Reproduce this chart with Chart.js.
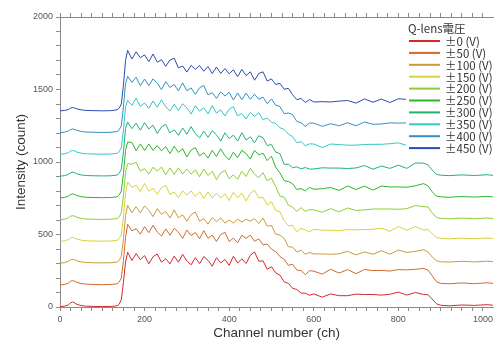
<!DOCTYPE html>
<html>
<head>
<meta charset="utf-8">
<script src="https://cdn.jsdelivr.net/npm/chart.js@4/dist/chart.umd.min.js"></script>
<style>
  body { margin: 0; background: #fff; }
  canvas { display: block; }
</style>
</head>
<body>
<canvas id="spec" width="496" height="341"></canvas>
<script>
// channel positions shared by every spectrum
const channels = [0, 10, 20, 25, 30, 35, 40, 50, 60, 80, 100, 120, 135, 140, 145, 150, 155,
  160, 170, 180, 190, 200, 210, 220, 230, 240, 250, 260, 270, 280, 290, 300, 310, 320, 330, 340, 350,
  360, 370, 380, 390, 400, 410, 420, 430, 440, 450, 460, 470, 480, 490, 500, 510, 520, 530, 540, 550,
  560, 570, 580, 590,
  600, 620, 640, 660, 680, 700, 720, 740, 760, 780, 800, 820, 840, 860,
  870, 880, 890, 900, 920, 950, 980, 1010, 1024];

const labels = ["±0 (V)", "±50 (V)", "±100 (V)", "±150 (V)", "±200 (V)",
  "±250 (V)", "±300 (V)", "±350 (V)", "±400 (V)", "±450 (V)"];
const colors = ["#d22a2a", "#d0692e", "#c99a3c", "#d6d23a", "#8fcc34",
  "#2eb52e", "#22b174", "#34c6c8", "#3290c4", "#2a4cb0"];

// counts (each spectrum sits 150 above the previous one)
const q0 = [3, 5, 15, 28, 35, 28, 18, 10, 6, 4, 3, 4, 8, 20, 50, 170, 310,
  378, 320, 368, 326, 354, 298, 347, 365, 309, 333, 297, 351, 309, 363, 317, 291, 340, 299, 348, 322,
  281, 340, 304, 328, 287, 350, 303, 332, 300, 357, 380, 315, 318, 260, 278, 235, 220, 174, 163, 129,
  121, 96, 95, 81,
  90, 68, 90, 78, 78, 89, 86, 86, 82, 88, 103, 82, 100, 86,
  85, 55, 22, 12, 8, 14, 11, 16, 12];
const q50 = [153, 155, 165, 178, 182, 178, 170, 162, 158, 155, 154, 155, 160, 172, 200, 320, 480,
  570, 525, 540, 502, 554, 512, 564, 517, 490, 538, 495, 543, 516, 473, 531, 493, 514, 471, 527, 474,
  496, 452, 499, 515, 452, 475, 443, 495, 473, 495, 453, 470, 429, 434, 399, 382, 348, 330, 287, 295,
  255, 251, 223, 250,
  247, 227, 260, 234, 258, 230, 259, 251, 252, 248, 258, 256, 260, 266,
  255, 215, 175, 163, 160, 166, 161, 167, 163];
const q100 = [303, 305, 315, 326, 330, 326, 318, 311, 307, 305, 304, 305, 310, 322, 350, 470, 630,
  701, 650, 692, 650, 697, 667, 623, 678, 639, 659, 614, 670, 615, 636, 591, 638, 655, 592, 609, 571,
  617, 589, 616, 578, 600, 579, 605, 586, 606, 591, 609, 575, 614, 558, 562, 503, 496, 474, 415, 413,
  379, 391, 364, 376,
  366, 366, 364, 367, 384, 359, 380, 364, 388, 364, 393, 376, 384, 395,
  380, 345, 320, 312, 310, 315, 311, 316, 313];
const q150 = [453, 455, 465, 476, 480, 476, 468, 461, 457, 455, 454, 455, 460, 472, 500, 620, 790,
  862, 825, 840, 796, 852, 799, 820, 777, 823, 840, 776, 793, 754, 801, 772, 800, 762, 795, 749, 794,
  752, 786, 752, 781, 734, 791, 753, 785, 731, 783, 805, 752, 757, 703, 725, 667, 656, 595, 560, 562,
  519, 542, 531, 518,
  536, 530, 529, 527, 534, 532, 534, 536, 544, 522, 555, 529, 554, 530,
  535, 505, 480, 473, 470, 475, 471, 476, 472];
const q200 = [603, 605, 615, 626, 630, 626, 618, 611, 607, 605, 604, 605, 610, 622, 650, 770, 930,
  989, 985, 998, 936, 954, 917, 964, 937, 965, 912, 960, 914, 960, 917, 951, 916, 946, 898, 951, 908,
  935, 878, 925, 943, 885, 912, 880, 937, 900, 957, 915, 892, 926, 870, 889, 831, 765, 757, 703, 688,
  660, 685, 659, 672,
  670, 654, 678, 656, 683, 666, 670, 676, 676, 676, 674, 678, 700, 692,
  690, 650, 618, 611, 608, 613, 609, 614, 610];
const q250 = [753, 755, 765, 776, 780, 776, 768, 761, 757, 755, 754, 755, 760, 772, 800, 920, 1080,
  1138, 1135, 1078, 1125, 1079, 1124, 1080, 1113, 1077, 1106, 1058, 1109, 1066, 1092, 1034, 1082, 1099, 1042, 1065, 1027,
  1080, 1038, 1091, 1043, 1016, 1068, 1029, 1081, 1058, 1020, 1081, 1048, 1061, 1010, 1040, 964, 925, 872, 865, 850,
  810, 817, 800, 825,
  812, 816, 824, 804, 835, 810, 834, 806, 834, 828, 828, 826, 836, 851,
  835, 795, 765, 760, 757, 762, 758, 763, 759];
const q300 = [903, 905, 915, 926, 930, 926, 918, 911, 907, 905, 904, 905, 910, 922, 950, 1070, 1230,
  1276, 1230, 1268, 1219, 1271, 1228, 1254, 1196, 1243, 1259, 1201, 1222, 1184, 1235, 1192, 1244, 1195, 1167, 1213, 1170,
  1216, 1188, 1144, 1201, 1162, 1185, 1144, 1202, 1151, 1174, 1133, 1181, 1167, 1114, 1120, 1068, 1058, 984, 985, 960,
  967, 952, 962, 951,
  952, 960, 958, 958, 955, 959, 976, 950, 972, 956, 978, 956, 993, 992,
  980, 945, 915, 909, 906, 911, 907, 912, 908];
const q350 = [1053, 1055, 1065, 1076, 1080, 1076, 1068, 1061, 1057, 1055, 1054, 1055, 1060, 1072, 1100, 1220, 1380,
  1425, 1390, 1441, 1384, 1408, 1370, 1421, 1378, 1429, 1381, 1352, 1399, 1355, 1402, 1373, 1331, 1388, 1351, 1374, 1331,
  1389, 1337, 1360, 1317, 1365, 1381, 1318, 1334, 1296, 1342, 1314, 1340, 1292, 1303, 1274, 1266, 1236, 1225, 1192, 1175,
  1133, 1140, 1113, 1125,
  1124, 1100, 1124, 1120, 1116, 1116, 1121, 1122, 1122, 1126, 1132, 1114, 1145, 1136,
  1132, 1100, 1070, 1063, 1060, 1065, 1061, 1066, 1062];
const q400 = [1203, 1205, 1215, 1224, 1228, 1224, 1218, 1211, 1207, 1205, 1204, 1205, 1210, 1222, 1250, 1380, 1540,
  1591, 1550, 1585, 1526, 1572, 1527, 1573, 1543, 1499, 1554, 1514, 1535, 1490, 1546, 1491, 1511, 1467, 1512, 1528, 1463,
  1478, 1439, 1484, 1455, 1480, 1428, 1476, 1430, 1475, 1433, 1467, 1433, 1447, 1403, 1435, 1392, 1383, 1333, 1338, 1327,
  1280, 1271, 1245, 1268,
  1268, 1246, 1264, 1250, 1271, 1250, 1276, 1260, 1262, 1270, 1268, 1270, 1270, 1292,
  1280, 1250, 1220, 1213, 1210, 1215, 1211, 1216, 1212];
const q450 = [1353, 1355, 1362, 1372, 1376, 1372, 1366, 1360, 1356, 1354, 1353, 1354, 1360, 1372, 1400, 1530, 1700,
  1770, 1710, 1760, 1719, 1739, 1692, 1745, 1688, 1706, 1660, 1703, 1716, 1649, 1662, 1620, 1667, 1638, 1665, 1626, 1658,
  1610, 1655, 1611, 1644, 1608, 1636, 1588, 1639, 1596, 1622, 1564, 1610, 1622, 1558, 1573, 1535, 1542, 1502, 1508, 1464,
  1430, 1438, 1410, 1431,
  1414, 1416, 1414, 1420, 1424, 1406, 1435, 1412, 1434, 1410, 1436, 1432, 1434, 1447,
  1438, 1405, 1375, 1368, 1365, 1370, 1366, 1371, 1367];

const spectra = [q0, q50, q100, q150, q200, q250, q300, q350, q400, q450];

const FONT = "'Liberation Sans', Arial, 'Noto Sans CJK JP', sans-serif";
const JP_FONT = "'Noto Sans CJK JP', 'Liberation Sans', sans-serif";

// legend drawn inside the plot, on a white box over the traces
const boxLegend = {
  id: 'boxLegend',
  afterDatasetsDraw(chart) {
    const c = chart.ctx;
    c.save();
    c.fillStyle = '#fff';
    c.fillRect(406, 21, 90, 135);
    c.fillStyle = '#333';
    c.font = "11.5px " + JP_FONT;
    c.textBaseline = 'middle';
    c.fillText('Q-lens電圧', 408, 29);
    chart.data.datasets.forEach((ds, i) => {
      const y = 41 + i * 11.9;
      c.strokeStyle = ds.borderColor;
      c.lineWidth = 2;
      c.beginPath();
      c.moveTo(409, y);
      c.lineTo(440, y);
      c.stroke();
      c.fillStyle = '#333';
      c.fillText(ds.label, 445, y + 0.5);
    });
    c.restore();
  }
};

const axisGrid = { display: true, drawOnChartArea: false, drawTicks: true, tickLength: 4, color: '#8a8a8a' };
const axisBorder = { display: true, color: '#8a8a8a', width: 1 };

new Chart(document.getElementById('spec'), {
  type: 'line',
  data: {
    datasets: spectra.map((vals, i) => ({
      label: labels[i],
      data: channels.map((ch, j) => ({ x: ch, y: vals[j] })),
      borderColor: colors[i],
      borderWidth: 1,
      pointRadius: 0,
      fill: false,
      tension: 0
    }))
  },
  options: {
    responsive: false,
    animation: false,
    layout: { padding: { left: 0, right: 1, top: 0, bottom: 0 } },
    plugins: { legend: { display: false }, tooltip: { enabled: false } },
    scales: {
      x: {
        type: 'linear', position: 'bottom', min: 0, max: 1024,
        grid: axisGrid, border: axisBorder,
        ticks: {
          stepSize: 25, autoSkip: false, maxRotation: 0, includeBounds: false,
          color: '#555', font: { family: FONT, size: 9 }, padding: 3,
          callback: v => (v % 200 === 0 ? v : '')
        },
        title: { display: true, text: 'Channel number (ch)', color: '#333',
          font: { family: FONT, size: 13.5 }, padding: 0 },
        afterFit: s => { s.height = 34; }
      },
      xTop: {
        type: 'linear', position: 'top', min: 0, max: 1024,
        grid: axisGrid, border: axisBorder,
        ticks: { stepSize: 25, autoSkip: false, includeBounds: false, display: true,
          callback: () => '' },
        afterFit: s => { s.height = 17; }
      },
      y: {
        type: 'linear', position: 'left', min: 0, max: 2000,
        grid: axisGrid, border: axisBorder,
        ticks: {
          stepSize: 100, autoSkip: false, includeBounds: false,
          color: '#555', font: { family: FONT, size: 9 }, padding: 3,
          callback: v => (v % 500 === 0 ? v : '')
        },
        title: { display: true, text: 'Intensity (count)', color: '#333',
          font: { family: FONT, size: 13.5 }, padding: { top: 13, bottom: 0 } },
        afterFit: s => { s.width = 60; }
      }
    }
  },
  plugins: [boxLegend]
});
</script>
</body>
</html>
